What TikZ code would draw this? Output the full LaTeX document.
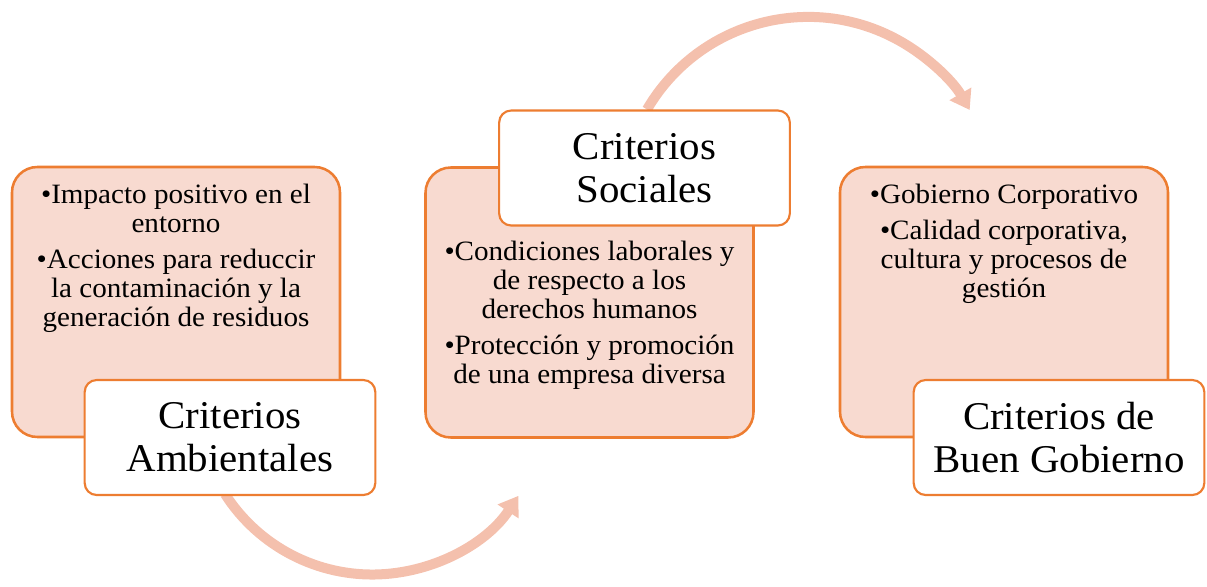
\documentclass[tikz,border=0pt]{standalone}
\usepackage{fontspec}
\setmainfont[FakeStretch=1.04]{Liberation Serif}
\usetikzlibrary{arrows.meta,backgrounds}
\definecolor{orangeE}{HTML}{ED7D31}
\definecolor{pinkF}{HTML}{F8DAD0}
\definecolor{arrowC}{HTML}{F4C0AD}
\tikzset{
  card/.style={draw=orangeE, line width=1.9pt, fill=pinkF, rounded corners=19pt,
    minimum width=246pt, minimum height=202.5pt, inner sep=0pt},
  titlebox/.style={draw=orangeE, line width=1.6pt, fill=white, rounded corners=9pt,
    minimum width=218pt, minimum height=86.25pt, inner sep=0pt, align=center,
    font=\fontsize{29.5}{32.25}\selectfont},
  bodytext/.style={anchor=north, inner sep=0pt, align=center,
    font=\fontsize{21}{21.75}\selectfont},
  cyclearrow/.style={draw=arrowC, line width=7.5pt,
    -{Triangle[width=18pt,length=14pt]}}
}
\begin{document}
\begin{tikzpicture}[x=0.75pt,y=-0.75pt]
\useasboundingbox (0,0) rectangle (1207,586);
% cards
\node[card] (c1) at (176,302) {};
\node[card] (c2) at (589.5,302.5) {};
\node[card] (c3) at (1004,302) {};
% body texts
\node[bodytext] (b1) at (176,184) {•Impacto positivo en el\\ entorno\\[5pt]
  •Acciones para reduccir\\ la contaminación y la\\ generación de residuos};
\node[bodytext] (b2) at (589.5,241) {•Condiciones laborales y\\ de respecto a los\\ derechos humanos\\[5pt]
  •Protección y promoción\\ de una empresa diversa};
\node[bodytext] (b3) at (1004,184) {•Gobierno Corporativo\\[5pt]
  •Calidad corporativa,\\ cultura y procesos de\\ gestión};
% title boxes
\node[titlebox] (t1) at (230,437.5) {Criterios\\ Ambientales};
\node[titlebox] (t2) at (644.5,168) {Criterios\\ Sociales};
\node[titlebox] (t3) at (1059,437.5) {Criterios de\\ Buen Gobierno};
% arrows
\begin{scope}[on background layer]
  \coordinate (a1s) at ([shift={(-5,-2)}]t1.south);
  \coordinate (a2s) at ([shift={(2.5,0)}]t2.north);
  \draw[cyclearrow] (a1s) arc[start angle=147.3, end angle=33.4, radius=175];
  \draw[cyclearrow] (a2s) arc[start angle=-149.7, end angle=-30.1, radius=186.7];
\end{scope}
\end{tikzpicture}
\end{document}
